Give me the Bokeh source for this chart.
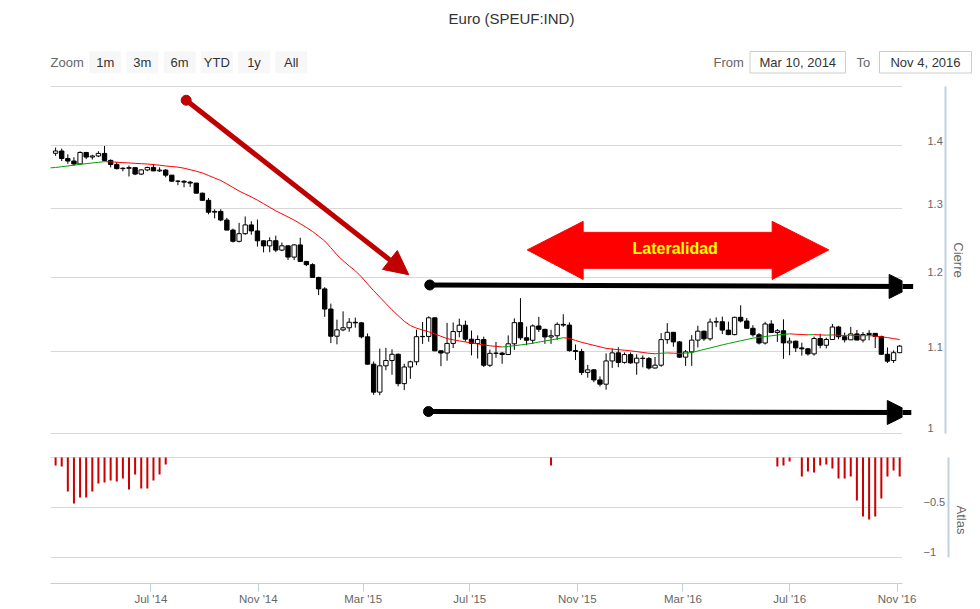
import pandas as pd
from bokeh.plotting import figure
from bokeh.layouts import column, row
from bokeh.models import (Range1d, LogAxis, LinearAxis, FixedTicker, Grid, CustomJSTickFormatter,
                          DatetimeTickFormatter, Arrow, NormalHead, LogScale, LinearScale)
from bokeh.core.properties import value
from bokeh.embed import file_html
from bokeh.resources import INLINE

# ---------------- data ----------------
TITLE = "Euro (SPEUF:IND)"
first_week = "2014-03-14"          # weekly candles (Fridays)
opens = [1.3874, 1.3911, 1.3790, 1.3749, 1.3702, 1.3887, 1.3813, 1.3830, 1.3872, 1.3759,
         1.3694, 1.3627, 1.3633, 1.3643, 1.3541, 1.3607, 1.3646, 1.3591, 1.3604, 1.3524,
         1.3429, 1.3428, 1.3414, 1.3399, 1.3242, 1.3132, 1.2951, 1.2963, 1.2833, 1.2683,
         1.2518, 1.2630, 1.2760, 1.2671, 1.2525, 1.2451, 1.2527, 1.2390, 1.2452, 1.2289,
         1.2465, 1.2227, 1.2181, 1.2000, 1.1841, 1.1565, 1.1204, 1.1287, 1.1315, 1.1388,
         1.1380, 1.1196, 1.0844, 1.0495, 1.0823, 1.0890, 1.0970, 1.0600, 1.0808, 1.0874,
         1.1198, 1.1201, 1.1447, 1.1014, 1.0986, 1.1110, 1.1265, 1.1349, 1.1165, 1.1109,
         1.1161, 1.0830, 1.0982, 1.0985, 1.0967, 1.1105, 1.1383, 1.1183, 1.1151, 1.1339,
         1.1294, 1.1194, 1.1210, 1.1360, 1.1350, 1.1017, 1.1005, 1.0740, 1.0772, 1.0646,
         1.0593, 1.0885, 1.0988, 1.0866, 1.0966, 1.0860, 1.0920, 1.0916, 1.0795, 1.0831,
         1.1159, 1.1255, 1.1130, 1.0933, 1.1001, 1.1153, 1.1270, 1.1170, 1.1391, 1.1395,
         1.1284, 1.1225, 1.1454, 1.1405, 1.1308, 1.1223, 1.1115, 1.1365, 1.1253, 1.1276,
         1.1117, 1.1139, 1.1052, 1.1040, 1.0975, 1.1174, 1.1086, 1.1161, 1.1325, 1.1197,
         1.1157, 1.1234, 1.1154, 1.1226, 1.1241, 1.1201, 1.0970, 1.0890, 1.0990]
highs = [1.3967, 1.3950, 1.3858, 1.3810, 1.3906, 1.3897, 1.3850, 1.3907, 1.3993, 1.3775,
         1.3733, 1.3650, 1.3677, 1.3650, 1.3615, 1.3657, 1.3700, 1.3648, 1.3618, 1.3526,
         1.3445, 1.3444, 1.3434, 1.3402, 1.3250, 1.3168, 1.2995, 1.2995, 1.2865, 1.2705,
         1.2791, 1.2887, 1.2815, 1.2840, 1.2532, 1.2577, 1.2601, 1.2500, 1.2456, 1.2475,
         1.2571, 1.2235, 1.2200, 1.2010, 1.1864, 1.1639, 1.1423, 1.1534, 1.1443, 1.1450,
         1.1390, 1.1240, 1.0878, 1.1043, 1.1052, 1.1034, 1.0980, 1.0849, 1.0888, 1.1290,
         1.1392, 1.1467, 1.1450, 1.1020, 1.1380, 1.1386, 1.1436, 1.1410, 1.1278, 1.1215,
         1.1198, 1.1030, 1.1129, 1.1000, 1.1214, 1.1440, 1.1714, 1.1332, 1.1360, 1.1460,
         1.1302, 1.1288, 1.1387, 1.1495, 1.1386, 1.1096, 1.1040, 1.0835, 1.0780, 1.0690,
         1.0981, 1.1044, 1.1060, 1.0993, 1.0993, 1.0971, 1.0955, 1.0935, 1.0935, 1.1245,
         1.1376, 1.1260, 1.1140, 1.1025, 1.1218, 1.1342, 1.1278, 1.1438, 1.1453, 1.1464,
         1.1396, 1.1461, 1.1616, 1.1445, 1.1349, 1.1246, 1.1394, 1.1416, 1.1298, 1.1427,
         1.1186, 1.1147, 1.1120, 1.1049, 1.1199, 1.1236, 1.1185, 1.1366, 1.1341, 1.1251,
         1.1327, 1.1285, 1.1258, 1.1284, 1.1245, 1.1210, 1.1058, 1.1020, 1.1090]
lows = [1.3832, 1.3749, 1.3705, 1.3672, 1.3700, 1.3780, 1.3773, 1.3812, 1.3750, 1.3647,
        1.3615, 1.3585, 1.3503, 1.3524, 1.3525, 1.3587, 1.3588, 1.3575, 1.3490, 1.3420,
        1.3366, 1.3333, 1.3340, 1.3240, 1.3126, 1.2919, 1.2858, 1.2815, 1.2680, 1.2500,
        1.2502, 1.2612, 1.2614, 1.2440, 1.2357, 1.2359, 1.2360, 1.2375, 1.2247, 1.2246,
        1.2220, 1.2160, 1.1999, 1.1755, 1.1460, 1.1114, 1.1098, 1.1270, 1.1262, 1.1316,
        1.1176, 1.0838, 1.0462, 1.0457, 1.0767, 1.0710, 1.0567, 1.0520, 1.0660, 1.0830,
        1.1104, 1.1132, 1.1010, 1.0818, 1.0888, 1.1050, 1.1190, 1.1133, 1.0955, 1.0916,
        1.0808, 1.0808, 1.0926, 1.0849, 1.0960, 1.1026, 1.1156, 1.1087, 1.1104, 1.1260,
        1.1104, 1.1104, 1.1156, 1.1328, 1.1004, 1.0896, 1.0707, 1.0674, 1.0617, 1.0565,
        1.0525, 1.0796, 1.0805, 1.0850, 1.0850, 1.0711, 1.0804, 1.0776, 1.0790, 1.0810,
        1.1105, 1.1067, 1.0923, 1.0822, 1.0822, 1.1058, 1.1144, 1.1145, 1.1324, 1.1233,
        1.1218, 1.1216, 1.1386, 1.1305, 1.1199, 1.1096, 1.1096, 1.1246, 1.1130, 1.0912,
        1.0958, 1.0999, 1.0952, 1.0953, 1.0952, 1.1047, 1.1045, 1.1160, 1.1163, 1.1123,
        1.1154, 1.1150, 1.1123, 1.1151, 1.1050, 1.0962, 1.0859, 1.0860, 1.0985]
closes = [1.3911, 1.3790, 1.3749, 1.3702, 1.3887, 1.3813, 1.3830, 1.3872, 1.3759, 1.3694,
          1.3627, 1.3633, 1.3643, 1.3541, 1.3607, 1.3646, 1.3591, 1.3604, 1.3524, 1.3429,
          1.3428, 1.3414, 1.3399, 1.3242, 1.3132, 1.2951, 1.2963, 1.2833, 1.2683, 1.2518,
          1.2630, 1.2760, 1.2671, 1.2525, 1.2451, 1.2527, 1.2390, 1.2452, 1.2289, 1.2465,
          1.2227, 1.2181, 1.2000, 1.1841, 1.1565, 1.1204, 1.1287, 1.1315, 1.1388, 1.1380,
          1.1196, 1.0844, 1.0495, 1.0823, 1.0890, 1.0970, 1.0600, 1.0808, 1.0874, 1.1198,
          1.1201, 1.1447, 1.1014, 1.0986, 1.1110, 1.1265, 1.1349, 1.1165, 1.1109, 1.1161,
          1.0830, 1.0982, 1.0985, 1.0967, 1.1105, 1.1383, 1.1183, 1.1151, 1.1339, 1.1294,
          1.1194, 1.1210, 1.1360, 1.1350, 1.1017, 1.1005, 1.0740, 1.0772, 1.0646, 1.0593,
          1.0885, 1.0988, 1.0866, 1.0966, 1.0860, 1.0920, 1.0916, 1.0795, 1.0831, 1.1159,
          1.1255, 1.1130, 1.0933, 1.1001, 1.1153, 1.1270, 1.1170, 1.1391, 1.1395, 1.1284,
          1.1225, 1.1454, 1.1405, 1.1308, 1.1223, 1.1115, 1.1365, 1.1253, 1.1276, 1.1117,
          1.1139, 1.1052, 1.1040, 1.0975, 1.1174, 1.1086, 1.1161, 1.1325, 1.1197, 1.1157,
          1.1234, 1.1154, 1.1226, 1.1241, 1.1201, 1.0970, 1.0882, 1.0990, 1.1075]

sma_first_week = "2014-03-07"
sma = [1.3638, 1.3646, 1.3658, 1.3670, 1.3683, 1.3696, 1.3707, 1.3718, 1.3728, 1.3739,
       1.3736, 1.3730, 1.3723, 1.3718, 1.3712, 1.3706, 1.3701, 1.3692, 1.3682, 1.3670,
       1.3661, 1.3651, 1.3634, 1.3610, 1.3586, 1.3558, 1.3519, 1.3478, 1.3440, 1.3386,
       1.3331, 1.3275, 1.3229, 1.3184, 1.3134, 1.3081, 1.3026, 1.2971, 1.2926, 1.2879,
       1.2832, 1.2778, 1.2722, 1.2663, 1.2593, 1.2522, 1.2424, 1.2321, 1.2238, 1.2162,
       1.2094, 1.2008, 1.1910, 1.1816, 1.1728, 1.1640, 1.1555, 1.1477, 1.1401, 1.1345,
       1.1310, 1.1285, 1.1262, 1.1234, 1.1203, 1.1173, 1.1157, 1.1143, 1.1129, 1.1116,
       1.1103, 1.1091, 1.1079, 1.1072, 1.1064, 1.1071, 1.1081, 1.1090, 1.1101, 1.1112,
       1.1127, 1.1141, 1.1156, 1.1170, 1.1184, 1.1174, 1.1149, 1.1124, 1.1105, 1.1085,
       1.1066, 1.1046, 1.1037, 1.1029, 1.1022, 1.1014, 1.1004, 1.0993, 1.0983, 1.0976,
       1.0983, 1.0987, 1.0984, 1.0981, 1.0985, 1.0992, 1.1012, 1.1032, 1.1051, 1.1071,
       1.1091, 1.1109, 1.1126, 1.1144, 1.1161, 1.1179, 1.1189, 1.1200, 1.1209, 1.1219,
       1.1228, 1.1235, 1.1230, 1.1226, 1.1222, 1.1225, 1.1221, 1.1218, 1.1221, 1.1215,
       1.1214, 1.1217, 1.1213, 1.1210, 1.1212, 1.1205, 1.1196, 1.1186, 1.1173, 1.1160]

atlas_weeks = [0, 1, 2, 3, 4, 5, 6, 7, 8, 9, 10, 11, 12, 13, 14, 15, 16, 17, 18,
               81, 118, 119, 120, 122, 123, 124, 125, 126, 127, 128, 129, 130,
               131, 132, 133, 134, 135, 136, 137, 138]
atlas_values = [-0.08, -0.09, -0.34, -0.46, -0.40, -0.40, -0.34, -0.26, -0.25, -0.23,
                -0.24, -0.21, -0.32, -0.17, -0.31, -0.31, -0.23, -0.17, -0.07,
                -0.08, -0.09, -0.08, -0.04, -0.19, -0.14, -0.15, -0.08, -0.07, -0.11,
                -0.21, -0.21, -0.19, -0.43, -0.59, -0.62, -0.59, -0.41, -0.19, -0.13, -0.19]

price_ticks = [1.0, 1.1, 1.2, 1.3, 1.4, 1.5]
atlas_ticks = [-1.0, -0.5, 0.0]
month_ticks = ["2014-07-01", "2014-11-01", "2015-03-01", "2015-07-01",
               "2015-11-01", "2016-03-01", "2016-07-01", "2016-11-01"]
zoom_buttons = ["1m", "3m", "6m", "YTD", "1y", "All"]
from_text, to_text = "Mar 10, 2014", "Nov 4, 2016"

# annotation anchors (week index along the series, price level)
red_arrow = dict(w0=21.35, p0=1.4761, w1=57.74, p1=1.2038)
resistance = dict(w0=61.17, p0=1.1895, w1=140.2, p1=1.1874)
support = dict(w0=60.96, p0=1.0260, w1=139.9, p1=1.0248)
lat_weeks = [77.1, 86.25, 86.25, 117.15, 117.15, 126.4, 117.15, 117.15, 86.25, 86.25]
lat_prices = [1.2393, 1.2813, 1.2649, 1.2649, 1.2813, 1.2393, 1.1972, 1.2129, 1.2129, 1.1972]
lat_label = dict(w=101.3, p=1.2408, text="Lateralidad")

# ---------------- helpers ----------------
DAY = 86400000.0
FONT = "Liberation Sans"


def ms(s):
    return pd.Timestamp(s).value / 1e6


def wk(i):
    return ms(first_week) + i * 7 * DAY


week_x = [wk(i) for i in range(len(closes))]
sma_x = [ms(sma_first_week) + i * 7 * DAY for i in range(len(sma))]

W = 980
BL, BR = 50, 78
xr = Range1d(ms("2014-03-08 04:00"), ms("2016-11-07 05:00"))
AXIS_BLUE = "#C0D0E0"
GRID = "#D8D8D8"
LABEL = "#666666"

# ---------------- header (page pixel coordinates) ----------------
h = figure(width=W, height=83, x_range=Range1d(0, W), y_range=Range1d(83, 0),
           x_axis_location=None, y_axis_location=None, min_border=0,
           output_backend="svg", toolbar_location=None)
h.grid.visible = False
h.outline_line_color = None
h.text(x=[511], y=[18], text=[TITLE], text_font=value(FONT), text_font_size="15px",
       text_color="#333333", text_align="center", text_baseline="middle")
h.text(x=[50], y=[62], text=["Zoom"], text_font=value(FONT), text_font_size="13px",
       text_color=LABEL, text_align="left", text_baseline="middle")
btn_left = [88.7 + 37.2 * i for i in range(len(zoom_buttons))]
h.quad(left=btn_left, right=[b + 32 for b in btn_left], top=51, bottom=72.7,
       fill_color="#f7f7f7", line_color=None)
h.text(x=[b + 16 for b in btn_left], y=[62] * len(zoom_buttons), text=zoom_buttons,
       text_font=value(FONT), text_font_size="13px", text_color="#333333",
       text_align="center", text_baseline="middle")
h.text(x=[713, 856], y=[62, 62], text=["From", "To"], text_font=value(FONT),
       text_font_size="13px", text_color=LABEL, text_align="left", text_baseline="middle")
h.quad(left=[749.5, 879], right=[845, 971], top=51, bottom=72.5,
       fill_color="white", line_color="#cccccc", line_width=1)
h.text(x=[797.3, 925], y=[62, 62], text=[from_text, to_text], text_font=value(FONT),
       text_font_size="13px", text_color="#333333", text_align="center", text_baseline="middle")

# ---------------- main price panel ----------------
ytop, ybot = 1.50175, 0.99883
p = figure(width=W, height=370, x_range=xr, y_range=Range1d(ybot, ytop), y_axis_type="log",
           x_axis_location=None, y_axis_location=None, output_backend="svg",
           toolbar_location=None, min_border_left=BL, min_border_right=BR,
           min_border_top=2, min_border_bottom=19)
p.outline_line_color = None
p.grid.visible = False
p.add_layout(Grid(dimension=1, ticker=FixedTicker(ticks=price_ticks), grid_line_color=GRID))

k = 10 ** (5 / 1970.6)
p.extra_y_ranges = {"lab": Range1d(ybot / k, ytop / k)}
p.extra_y_scales = {"lab": LogScale()}
ax1 = LogAxis(y_range_name="lab", ticker=FixedTicker(ticks=price_ticks[:-1]),
              formatter=CustomJSTickFormatter(code="return String(Math.round(tick*10)/10);"),
              axis_line_color=None, major_tick_line_color=None, minor_tick_line_color=None,
              major_tick_out=0, major_tick_in=0, major_label_standoff=25,
              major_label_text_font=FONT, major_label_text_font_size="11px",
              major_label_text_color=LABEL)
p.add_layout(ax1, "right")
ax2 = LogAxis(ticker=FixedTicker(ticks=[]), bounds=(1.0, 1.5), axis_line_color=AXIS_BLUE,
              axis_line_width=2, major_tick_line_color=None, minor_tick_line_color=None,
              major_tick_out=0, major_tick_in=0, major_label_standoff=0,
              major_label_text_font_size="0px", axis_label="Cierre", axis_label_standoff=5,
              axis_label_text_font=FONT, axis_label_text_font_size="13px",
              axis_label_text_font_style="normal", axis_label_text_color=LABEL)
p.add_layout(ax2, "right")

body_top = [max(o, c) for o, c in zip(opens, closes)]
body_bot = [min(o, c) for o, c in zip(opens, closes)]
body_fill = ["white" if c >= o else "black" for o, c in zip(opens, closes)]
p.segment(x0=week_x, y0=lows, x1=week_x, y1=highs, line_color="black", line_width=1)
p.vbar(x=week_x, width=5 * DAY, top=body_top, bottom=body_bot, fill_color=body_fill,
       line_color="black", line_width=1)

sma_col = ["#00a000" if b > a else "#ff0000" for a, b in zip(sma[:-1], sma[1:])]
p.segment(x0=sma_x[:-1], y0=sma[:-1], x1=sma_x[1:], y1=sma[1:], line_color=sma_col, line_width=1)

RED_DARK = "#c00000"
p.add_layout(Arrow(end=NormalHead(size=24, fill_color=RED_DARK, line_color=RED_DARK),
                   x_start=wk(red_arrow["w0"]), y_start=red_arrow["p0"],
                   x_end=wk(red_arrow["w1"]), y_end=red_arrow["p1"],
                   line_color=RED_DARK, line_width=5))
p.scatter([wk(red_arrow["w0"])], [red_arrow["p0"]], size=10, color=RED_DARK)
for a in (resistance, support):
    p.add_layout(Arrow(end=NormalHead(size=24, fill_color="black", line_color="black"),
                       x_start=wk(a["w0"]), y_start=a["p0"], x_end=wk(a["w1"]), y_end=a["p1"],
                       line_color="black", line_width=5))
    p.scatter([wk(a["w0"])], [a["p0"]], size=10, color="black")

p.patch([wk(w) for w in lat_weeks], lat_prices, fill_color="#ff0000", line_color="#ff0000")
p.text(x=[wk(lat_label["w"])], y=[lat_label["p"]], text=[lat_label["text"]],
       text_font=value(FONT), text_font_style="bold", text_font_size="16px",
       text_color="#ffff00", text_align="center", text_baseline="middle")

# ---------------- Atlas panel ----------------
atop, abot = 0.01, -1.26
p2 = figure(width=W, height=156, x_range=xr, y_range=Range1d(abot, atop), x_axis_type="datetime",
            x_axis_location="below", y_axis_location=None, output_backend="svg",
            toolbar_location=None, min_border_left=BL, min_border_right=BR,
            min_border_top=3, min_border_bottom=26)
p2.outline_line_color = None
p2.grid.visible = False
p2.add_layout(Grid(dimension=1, ticker=FixedTicker(ticks=atlas_ticks), grid_line_color=GRID))

fmt = "%b '%y"
p2.xaxis.ticker = FixedTicker(ticks=[ms(d) for d in month_ticks])
p2.xaxis.formatter = DatetimeTickFormatter(microseconds=fmt, milliseconds=fmt, seconds=fmt,
                                           minsec=fmt, minutes=fmt, hourmin=fmt, hours=fmt,
                                           days=fmt, months=fmt, years=fmt)
p2.xaxis.axis_line_color = AXIS_BLUE
p2.xaxis.major_tick_line_color = AXIS_BLUE
p2.xaxis.minor_tick_line_color = None
p2.xaxis.major_tick_out = 8
p2.xaxis.major_tick_in = 0
p2.xaxis.major_label_standoff = 1
p2.xaxis.major_label_text_font = FONT
p2.xaxis.major_label_text_font_size = "11.5px"
p2.xaxis.major_label_text_color = LABEL

p2.extra_y_ranges = {"lab": Range1d(abot - 0.06, atop - 0.06)}
p2.extra_y_scales = {"lab": LinearScale()}
bx1 = LinearAxis(y_range_name="lab", ticker=FixedTicker(ticks=atlas_ticks[:-1]),
                 formatter=CustomJSTickFormatter(
                     code="return (tick < 0 ? '\\u2212' : '') + String(Math.abs(tick));"),
                 axis_line_color=None, major_tick_line_color=None, minor_tick_line_color=None,
                 major_tick_out=0, major_tick_in=0, major_label_standoff=21,
                 major_label_text_font=FONT, major_label_text_font_size="11px",
                 major_label_text_color=LABEL)
p2.add_layout(bx1, "right")
bx2 = LinearAxis(ticker=FixedTicker(ticks=[]), bounds=(-1, 0), axis_line_color=AXIS_BLUE,
                 axis_line_width=2, major_tick_line_color=None, minor_tick_line_color=None,
                 major_tick_out=0, major_tick_in=0, major_label_standoff=0,
                 major_label_text_font_size="0px", axis_label="Atlas", axis_label_standoff=5,
                 axis_label_text_font=FONT, axis_label_text_font_size="13px",
                 axis_label_text_font_style="normal", axis_label_text_color=LABEL)
p2.add_layout(bx2, "right")

p2.vbar(x=[wk(i) for i in atlas_weeks], width=2.3 * DAY, top=0, bottom=atlas_values,
        fill_color="#cc0000", line_color=None)

layout = column(row(h), p, p2)
open("out.html", "w").write(file_html(layout, INLINE, title=TITLE))
